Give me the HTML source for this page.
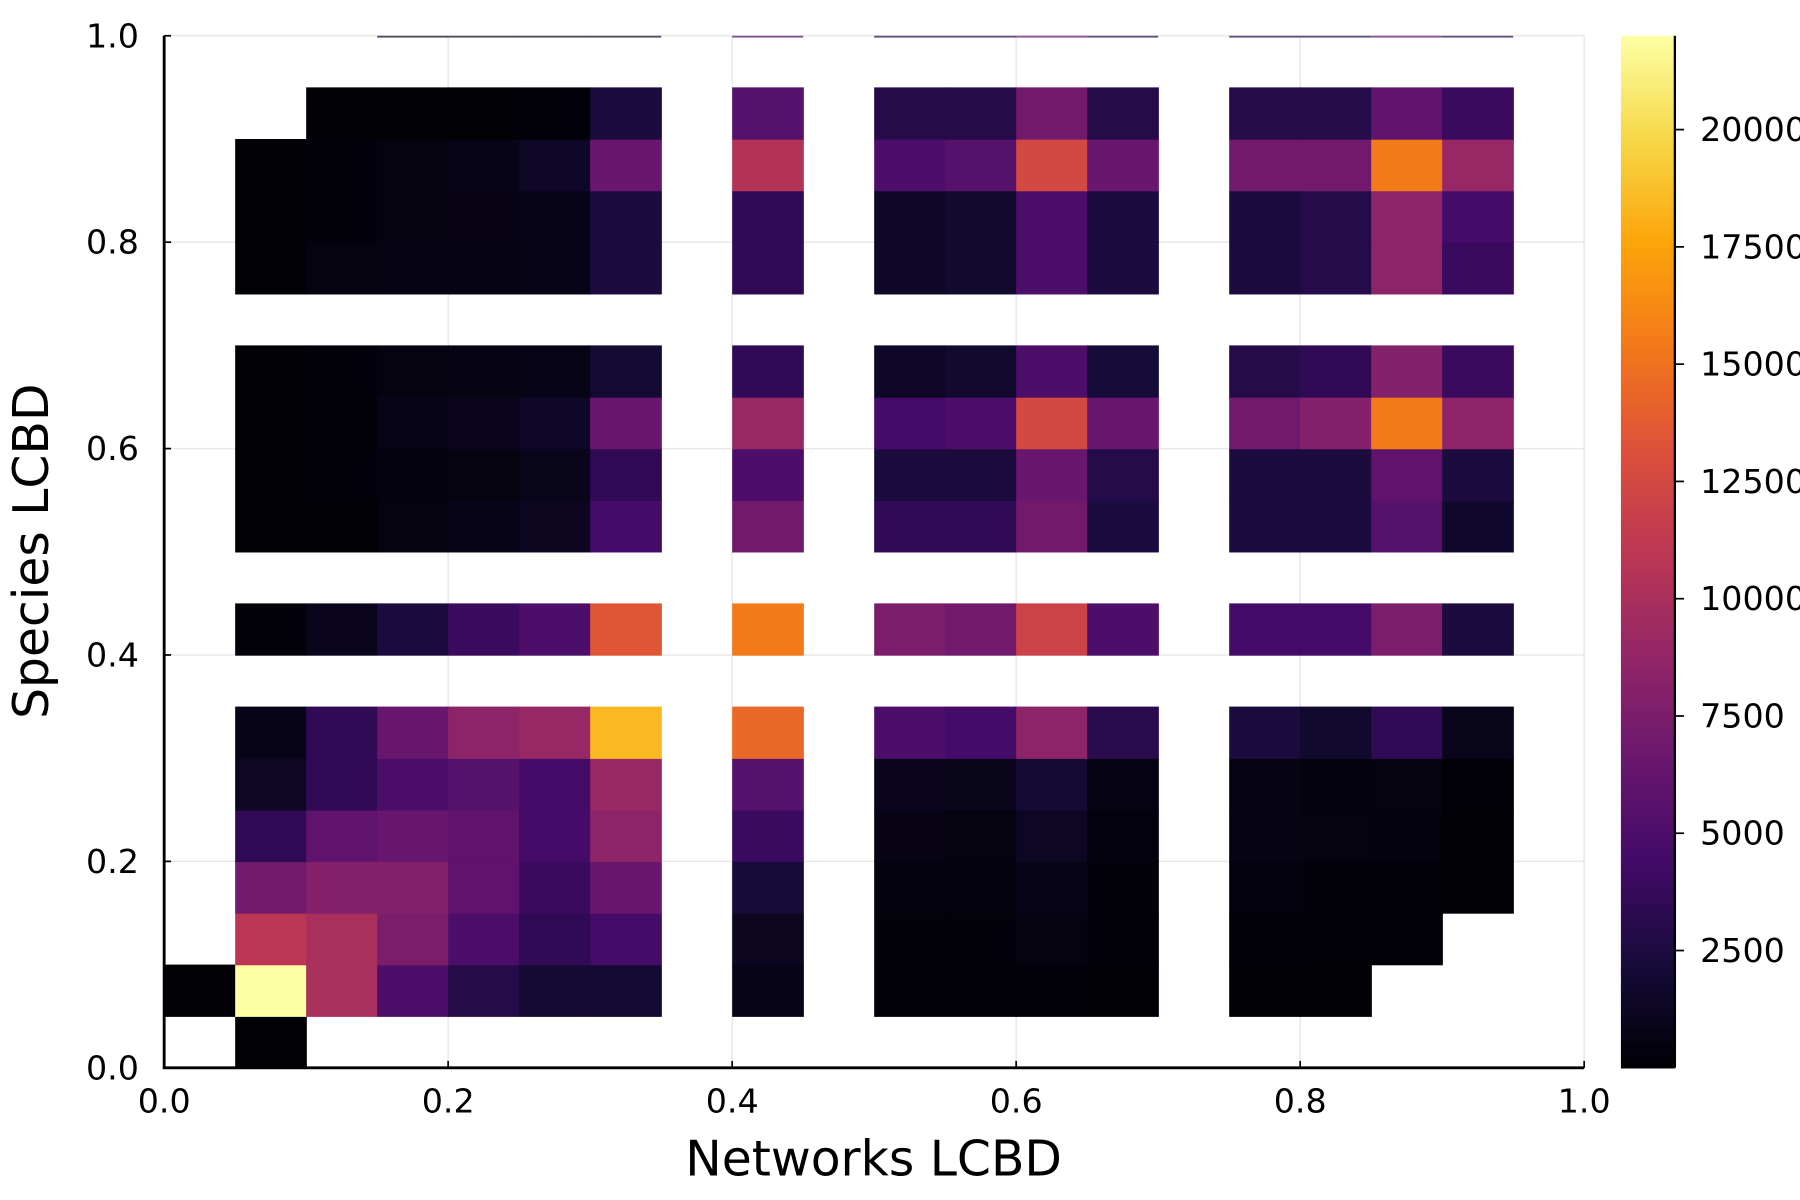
<!DOCTYPE html>
<html><head><meta charset="utf-8"><style>
html,body{margin:0;padding:0;background:#fff;}
svg{display:block;font-family:"DejaVu Sans","Liberation Sans",sans-serif;}
</style></head><body>
<svg id="chart" width="1800" height="1200" viewBox="0 0 1568 1045" xmlns="http://www.w3.org/2000/svg">
<g id="grid"></g>
<g id="cells"></g>
<g id="axes"></g>
<g id="cbar"></g>
<text x="761" y="1024" font-size="42.5" text-anchor="middle">Networks LCBD</text>
<text transform="translate(42,480) rotate(-90)" font-size="42.5" text-anchor="middle">Species LCBD</text>
</svg>
<script>
// rows = Species LCBD bins (width 0.05), cols = Networks LCBD bins; null = empty
const rowBins = [0,1,2,3,4,5,6,8,10,11,12,13,15,16,17,18];
const row0  = [null,100,null,null,null,null,null,null,null,null,null,null,null,null,null,null,null,null,null,null];
const row1  = [100,22000,10000,5000,3000,2000,2000,null,800,null,200,200,200,100,null,100,100,null,null,null];
const row2  = [null,11000,10000,7500,5000,3500,4500,null,1200,null,300,250,500,200,null,200,150,150,null,null];
const row3  = [null,7000,8000,8000,6000,4000,6500,null,2200,null,400,400,800,300,null,400,300,200,100,null];
const row4  = [null,3500,6000,6500,6000,4500,8500,null,4000,null,700,500,1300,400,null,600,500,400,100,null];
const row5  = [null,1300,3500,5000,5500,4500,9000,null,5500,null,1000,900,2000,600,null,600,400,500,200,null];
const row6  = [null,800,3500,6500,8500,9000,18500,null,14500,null,5000,4500,8500,3200,null,2500,1800,3500,900,null];
const row8  = [null,300,1000,2500,4000,5000,13500,null,15500,null,7500,7000,12000,5000,null,4500,4500,7500,2500,null];
const row10 = [null,100,100,500,800,1200,4500,null,7000,null,3500,3500,7000,2500,null,2500,2500,5500,1700,null];
const row11 = [null,100,200,400,500,900,3500,null,5000,null,2500,2500,6500,3000,null,2500,2500,6000,2500,null];
const row12 = [null,100,300,800,1000,1500,6500,null,9000,null,4500,5000,12500,6500,null,7000,8000,15500,8500,null];
const row13 = [null,100,300,500,600,800,2000,null,3500,null,1500,1800,5000,2200,null,3000,3500,8000,4000,null];
const row15 = [null,100,500,600,600,800,2500,null,3500,null,1500,1800,5000,2500,null,2500,3000,8500,4000,null];
const row16 = [null,100,300,500,700,800,2500,null,3500,null,1500,1800,5000,2500,null,2500,3000,8500,4500,null];
const row17 = [null,100,300,500,800,1500,6500,null,10500,null,5000,5500,12500,6500,null,7000,7000,15500,9000,null];
const row18 = [null,null,100,100,100,200,2500,null,5500,null,3000,3000,7000,3000,null,3000,3000,6000,4000,null];
const topStrip = [null,null,null,1500,1500,1500,1500,null,5000,null,3000,3000,6000,3000,null,3000,3000,6000,3000,null];
const xTicks = [0,0.2,0.4,0.6,0.8,1.0];
const yTicks = [0,0.2,0.4,0.6,0.8,1.0];
const cbTicks = [2500,5000,7500,10000,12500,15000,17500,20000];
const cMin = 0, cMax = 22000;

const rowsData = [row0,row1,row2,row3,row4,row5,row6,row8,row10,row11,row12,row13,row15,row16,row17,row18];

const X0=143,X1=1380,Y0=930,Y1=31;
const sx=v=>X0+(X1-X0)*v, sy=v=>Y0-(Y0-Y1)*v;
const stops=["#000004","#160b39","#420a68","#6a176e","#932667","#bc3754","#dd513a","#f37819","#fca50a","#f6d746","#fcffa4"];
function hex(h){return [1,3,5].map(i=>parseInt(h.substr(i,2),16));}
function inferno(t){t=Math.max(0,Math.min(1,t));const p=t*10,i=Math.min(9,Math.floor(p)),f=p-i;
 const a=hex(stops[i]),b=hex(stops[i+1]);return "rgb("+a.map((v,k)=>Math.round(v+(b[k]-v)*f)).join(",")+")";}
const NS="http://www.w3.org/2000/svg";
function mk(tag,attrs,parent){const e=document.createElementNS(NS,tag);for(const k in attrs)e.setAttribute(k,attrs[k]);parent.appendChild(e);return e;}

const grid=document.getElementById('grid');
xTicks.forEach(v=>{const l=mk('line',{x1:sx(v),x2:sx(v),y1:Y1,y2:Y0,stroke:'#e8e8e8','stroke-width':1.3},grid);

});
yTicks.forEach(v=>{const l=mk('line',{x1:X0,x2:X1,y1:sy(v),y2:sy(v),stroke:'#e8e8e8','stroke-width':1.3},grid);

});

const cells=document.getElementById('cells');
rowsData.forEach((row,ri)=>{const r=rowBins[ri];row.forEach((v,c)=>{if(v==null)return;
 const x=sx(c*0.05),w=sx((c+1)*0.05)-x,y=sy((r+1)*0.05),h=sy(r*0.05)-y;
 const e=mk('rect',{x:x,y:y,width:w+0.6,height:h+0.6,fill:inferno((v-cMin)/(cMax-cMin))},cells);
 
 });});
topStrip.forEach((v,c)=>{if(v==null)return;const x=sx(c*0.05),w=sx((c+1)*0.05)-x;
 const e=mk('rect',{x:x,y:Y1,width:w,height:1.6,fill:inferno(v/cMax),opacity:0.7},cells);
 
 });

const axes=document.getElementById('axes');
mk('line',{x1:X0,x2:X0,y1:Y1,y2:Y0+1,stroke:'#000','stroke-width':2.5},axes);
mk('line',{x1:X0-1,x2:X1,y1:Y0,y2:Y0,stroke:'#000','stroke-width':2.5},axes);
xTicks.forEach(v=>{mk('line',{x1:sx(v),x2:sx(v),y1:Y0,y2:Y0-6,stroke:'#000','stroke-width':1.5},axes);
 const t=mk('text',{x:sx(v),y:Y0+39,'font-size':29,'text-anchor':'middle'},axes);t.textContent=v.toFixed(1);
 
 });
yTicks.forEach(v=>{mk('line',{x1:X0,x2:X0+6,y1:sy(v),y2:sy(v),stroke:'#000','stroke-width':1.5},axes);
 const t=mk('text',{x:X0-22,y:sy(v)+10,'font-size':29,'text-anchor':'end'},axes);t.textContent=v.toFixed(1);
 
 });

const cb=document.getElementById('cbar');
const CX=1412,CW=47;
for(let i=0;i<200;i++){const y0=Y0-(Y0-Y1)*(i+1)/200,h=(Y0-Y1)/200;
 mk('rect',{x:CX,y:y0,width:CW,height:h+0.6,fill:inferno((i+0.5)/200)},cb);}
mk('line',{x1:CX+CW,x2:CX+CW,y1:Y1,y2:Y0,stroke:'#000','stroke-width':2},cb);
cbTicks.forEach(v=>{const y=Y0-(Y0-Y1)*(v-cMin)/(cMax-cMin);
 mk('line',{x1:CX+CW,x2:CX+CW+8,y1:y,y2:y,stroke:'#000','stroke-width':1.5},cb);
 const t=mk('text',{x:CX+CW+22,y:y+10,'font-size':29},cb);t.textContent=v;
 
 });
</script>
</body></html>
